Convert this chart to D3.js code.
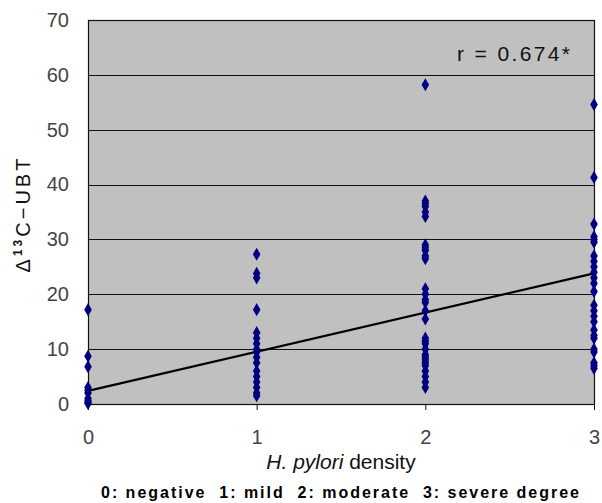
<!DOCTYPE html>
<html><head><meta charset="utf-8">
<script src="https://cdn.jsdelivr.net/npm/d3@7"></script>
<style>body{margin:0;background:#fff}svg{display:block}</style>
</head><body>
<svg id="c" width="602" height="503"></svg>
<script>
const xTicks = [0, 1, 2, 3];
const yTicks = [0, 10, 20, 30, 40, 50, 60, 70];
const density0 = [17.2, 8.7, 6.8, 3.0, 2.5, 2.0, 1.0, 0.6, 0.3, 0.1];
const density1 = [27.3, 23.8, 23.0, 17.2, 13.0, 12.0, 11.0, 10.0, 9.5, 8.5, 7.5, 6.0, 5.0, 4.0, 3.0, 2.0, 1.5];
const density2 = [58.2, 37.0, 36.5, 36.0, 35.0, 34.2, 29.0, 28.5, 28.0, 27.0, 26.5, 21.0, 20.0, 19.0, 18.5, 17.0, 15.5, 12.0, 11.5, 11.0, 10.0, 9.0, 8.5, 8.0, 7.5, 7.0, 6.0, 5.0, 4.0, 3.0];
const density3 = [54.6, 41.3, 32.8, 30.5, 30.0, 29.5, 27.0, 26.0, 25.0, 24.0, 23.0, 22.0, 20.5, 18.0, 17.0, 16.0, 15.0, 13.5, 12.5, 12.0, 10.0, 9.5, 7.5, 7.0, 6.5];
const regression = [[0, 2.4], [3, 23.8]];
const rLabel = "r = 0.674*";
const xTitle = ["H. pylori", " density"];
const caption = "0: negative  1: mild  2: moderate  3: severe degree";

const FONT = "Arial, Liberation Sans, sans-serif";
const svg = d3.select("#c");
const L = 88, R = 594, T = 20, B = 404;
const x = d3.scaleLinear().domain([0, 3]).range([L, R]);
const y = d3.scaleLinear().domain([0, 70]).range([B, T]);

svg.append("rect").attr("x", L).attr("y", T).attr("width", R - L).attr("height", B - T)
  .attr("fill", "#c0c0c0");

// gridlines
svg.append("g").selectAll("line").data(yTicks).join("line")
  .attr("x1", L).attr("x2", R).attr("y1", d => Math.round(y(d)) + 0.5).attr("y2", d => Math.round(y(d)) + 0.5)
  .attr("stroke", "#111").attr("stroke-width", 1);

svg.append("rect").attr("x", L + 0.5).attr("y", T + 0.5).attr("width", R - L).attr("height", B - T)
  .attr("fill", "none").attr("stroke", "#111").attr("stroke-width", 1.2);

// y axis
const ya = svg.append("g").attr("transform", `translate(${L},0)`)
  .call(d3.axisLeft(y).tickValues(yTicks).tickSize(0).tickPadding(19));
ya.select(".domain").remove();
ya.selectAll("text").attr("font-family", FONT).attr("font-size", 20).attr("fill", "#444");

// x axis
const xa = svg.append("g").attr("transform", `translate(0,${B})`)
  .call(d3.axisBottom(x).tickValues(xTicks).tickSize(6).tickPadding(20).tickFormat(d3.format("d")));
xa.select(".domain").remove();
xa.selectAll("line").attr("stroke", "#111");
xa.selectAll("text").attr("font-family", FONT).attr("font-size", 20).attr("fill", "#444");

// regression line
svg.append("path").datum(regression)
  .attr("d", d3.line().x(d => x(d[0])).y(d => y(d[1])))
  .attr("stroke", "#000").attr("stroke-width", 2.2).attr("fill", "none");

// points
const series = [density0, density1, density2, density3];
const pts = [];
series.forEach((arr, i) => arr.forEach(v => pts.push([xTicks[i], v])));
const diamond = d3.symbol().type(d3.symbolDiamond).size(50);
svg.append("g").selectAll("path").data(pts).join("path")
  .attr("transform", d => `translate(${x(d[0])},${y(d[1])})`)
  .attr("d", diamond).attr("fill", "#000080");

// r label
svg.append("text").attr("x", 457).attr("y", 61)
  .attr("font-family", FONT).attr("font-size", 21)
  .attr("textLength", 113).attr("lengthAdjust", "spacing")
  .attr("fill", "#111").text(rLabel);

// y title
const yt = svg.append("text").attr("transform", "translate(30,214) rotate(-90)")
  .attr("text-anchor", "middle")
  .attr("font-family", FONT).attr("font-size", 20).attr("letter-spacing", 3).attr("fill", "#111");
yt.append("tspan").text("Δ");
yt.append("tspan").attr("font-size", 12).attr("dy", -8).attr("font-weight", "bold").text("13");
yt.append("tspan").attr("dy", 8).text("C−UBT");

// x title
const xt = svg.append("text").attr("x", (L + R) / 2).attr("y", 469).attr("text-anchor", "middle")
  .attr("font-family", FONT).attr("font-size", 21).attr("fill", "#111");
xt.append("tspan").attr("font-style", "italic").text(xTitle[0]);
xt.append("tspan").text(xTitle[1]);

// caption
svg.append("text").attr("x", 101).attr("y", 498)
  .attr("font-family", FONT).attr("font-size", 16)
  .attr("font-weight", "bold").attr("fill", "#000")
  .attr("textLength", 478).attr("lengthAdjust", "spacing")
  .style("white-space", "pre").text(caption);
</script>
</body></html>
